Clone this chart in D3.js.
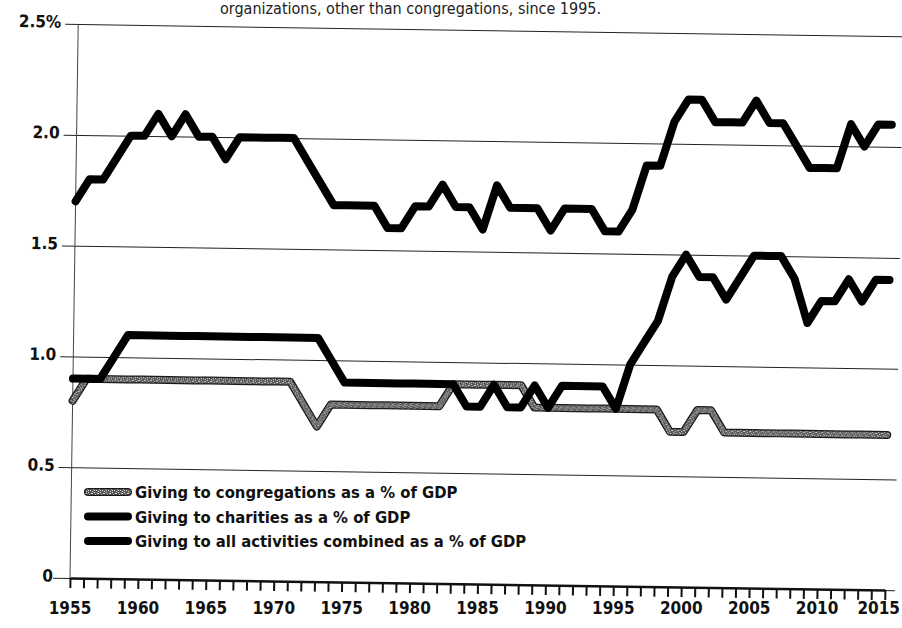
<!DOCTYPE html>
<html>
<head>
<meta charset="utf-8">
<script src="https://cdn.jsdelivr.net/npm/d3@7"></script>
<style>
  body { margin: 0; background: #fff; }
  svg { display: block; }
  .lbl {
    font-family: "DejaVu Sans Condensed", "DejaVu Sans", sans-serif;
    font-stretch: condensed;
    font-weight: bold;
    fill: #111;
  }
  .sub {
    font-family: "DejaVu Sans Condensed", "DejaVu Sans", sans-serif;
    font-stretch: condensed;
    fill: #222;
  }
</style>
</head>
<body>
<div id="chart"></div>
<script>
// Giving as a % of GDP, 1955-2015
var years = d3.range(1955, 2016);

var congregations = [
  0.8, 0.9, 0.9, 0.9, 0.9, 0.9, 0.9, 0.9, 0.9, 0.9,   // 1955-1964
  0.9, 0.9, 0.9, 0.9, 0.9, 0.9, 0.9, 0.8, 0.7, 0.8,   // 1965-1974
  0.8, 0.8, 0.8, 0.8, 0.8, 0.8, 0.8, 0.8, 0.9, 0.9,   // 1975-1984
  0.9, 0.9, 0.9, 0.9, 0.8, 0.8, 0.8, 0.8, 0.8, 0.8,   // 1985-1994
  0.8, 0.8, 0.8, 0.8, 0.7, 0.7, 0.8, 0.8, 0.7, 0.7,   // 1995-2004
  0.7, 0.7, 0.7, 0.7, 0.7, 0.7, 0.7, 0.7, 0.7, 0.7,   // 2005-2014
  0.7                                                 // 2015
];

var charities = [
  0.9, 0.9, 0.9, 1.0, 1.1, 1.1, 1.1, 1.1, 1.1, 1.1,
  1.1, 1.1, 1.1, 1.1, 1.1, 1.1, 1.1, 1.1, 1.1, 1.0,
  0.9, 0.9, 0.9, 0.9, 0.9, 0.9, 0.9, 0.9, 0.9, 0.8,
  0.8, 0.9, 0.8, 0.8, 0.9, 0.8, 0.9, 0.9, 0.9, 0.9,
  0.8, 1.0, 1.1, 1.2, 1.4, 1.5, 1.4, 1.4, 1.3, 1.4,
  1.5, 1.5, 1.5, 1.4, 1.2, 1.3, 1.3, 1.4, 1.3, 1.4,
  1.4
];

var combined = [
  1.7, 1.8, 1.8, 1.9, 2.0, 2.0, 2.1, 2.0, 2.1, 2.0,
  2.0, 1.9, 2.0, 2.0, 2.0, 2.0, 2.0, 1.9, 1.8, 1.7,
  1.7, 1.7, 1.7, 1.6, 1.6, 1.7, 1.7, 1.8, 1.7, 1.7,
  1.6, 1.8, 1.7, 1.7, 1.7, 1.6, 1.7, 1.7, 1.7, 1.6,
  1.6, 1.7, 1.9, 1.9, 2.1, 2.2, 2.2, 2.1, 2.1, 2.1,
  2.2, 2.1, 2.1, 2.0, 1.9, 1.9, 1.9, 2.1, 2.0, 2.1,
  2.1
];

var yTicks = [0, 0.5, 1.0, 1.5, 2.0, 2.5];
var yTickLabels = ["0", "0.5", "1.0", "1.5", "2.0", "2.5%"];
var xLabelYears = [1955, 1960, 1965, 1970, 1975, 1980, 1985, 1990, 1995, 2000, 2005, 2010, 2015];

var legendLabels = [
  "Giving to congregations as a % of GDP",
  "Giving to charities as a % of GDP",
  "Giving to all activities combined as a % of GDP"
];
var subtitle = "organizations, other than congregations, since 1995.";

var svgWidth = 902;
var svgHeight = 628;

var svg = d3.select("#chart")
  .append("svg")
  .attr("width", svgWidth)
  .attr("height", svgHeight);

// stippled texture for the congregations line
var pat = svg.append("defs").append("pattern")
  .attr("id", "stipple")
  .attr("patternUnits", "userSpaceOnUse")
  .attr("width", 6)
  .attr("height", 6);
pat.append("rect").attr("width", 6).attr("height", 6).attr("fill", "#5a5a5a");
[[0, 0], [3, 1], [1, 2], [5, 3], [2, 4], [4, 5], [0, 4], [4, 1]].forEach(function(p) {
  pat.append("rect").attr("x", p[0]).attr("y", p[1])
    .attr("width", 1).attr("height", 1).attr("fill", "#d0d0d0");
});

// scales
var x = d3.scaleLinear().domain([1955, 2015]).range([70, 885]);
var y = d3.scaleLinear().domain([0, 2.5]).range([578, 24]);

// the printed page sits slightly askew, so tilt the plot a touch
var plot = svg.append("g")
  .attr("transform", "rotate(0.85, 70, 578)");

// grid lines + y labels
var yAxis = d3.axisLeft(y)
  .tickValues(yTicks)
  .tickSize(-(895 - 57))
  .tickPadding(4)
  .tickFormat(function(d, i) { return yTickLabels[i]; });

var yG = plot.append("g")
  .attr("transform", "translate(57, 0)")
  .call(yAxis);
yG.select(".domain").remove();
yG.selectAll(".tick line")
  .attr("stroke", "#222")
  .attr("stroke-width", 1);
yG.selectAll(".tick text")
  .attr("class", "lbl")
  .attr("font-size", 17)
  .attr("dy", "0.2em");
// baseline tick starts a little further left
yG.selectAll(".tick").filter(function(d) { return d === 0; })
  .select("line").attr("x1", -4);

// y axis line
plot.append("line")
  .attr("x1", x(1955)).attr("x2", x(1955))
  .attr("y1", y(2.5)).attr("y2", y(0))
  .attr("stroke", "#444")
  .attr("stroke-width", 1);

// x axis with yearly ticks
var xAxis = d3.axisBottom(x)
  .tickValues(years)
  .tickSize(10)
  .tickSizeOuter(0)
  .tickFormat("");

var xG = plot.append("g")
  .attr("transform", "translate(0, " + y(0) + ")")
  .call(xAxis);
xG.select(".domain").attr("stroke", "#111").attr("stroke-width", 2.5);
xG.selectAll(".tick line").attr("stroke", "#111").attr("stroke-width", 2);

// lines
var line = d3.line()
  .x(function(d) { return x(d.year); })
  .y(function(d) { return y(d.value); });

function toPoints(values) {
  return values.map(function(v, i) { return { year: years[i], value: v }; });
}

plot.append("path")
  .datum(toPoints(congregations))
  .attr("d", line)
  .attr("fill", "none")
  .attr("stroke", "#1a1a1a")
  .attr("stroke-width", 8)
  .attr("stroke-linejoin", "round")
  .attr("stroke-linecap", "round");
plot.append("path")
  .datum(toPoints(congregations))
  .attr("d", line)
  .attr("fill", "none")
  .attr("stroke", "url(#stipple)")
  .attr("stroke-width", 5.5)
  .attr("stroke-linejoin", "round")
  .attr("stroke-linecap", "round");

[charities, combined].forEach(function(vals) {
  plot.append("path")
    .datum(toPoints(vals))
    .attr("d", line)
    .attr("fill", "none")
    .attr("stroke", "#000")
    .attr("stroke-width", 8)
    .attr("stroke-linejoin", "round")
    .attr("stroke-linecap", "round");
});

// year labels (last one pulled in so it stays on the page)
svg.append("g")
  .selectAll("text")
  .data(xLabelYears)
  .enter()
  .append("text")
  .attr("class", "lbl")
  .attr("x", function(d, i) { return i === xLabelYears.length - 1 ? 900 : x(d); })
  .attr("y", 614)
  .attr("text-anchor", function(d, i) { return i === xLabelYears.length - 1 ? "end" : "middle"; })
  .attr("font-size", 17)
  .text(function(d) { return d; });

// legend
var legend = svg.append("g").attr("transform", "translate(88, 492)");
var legendRows = legend.selectAll("g")
  .data(legendLabels)
  .enter()
  .append("g")
  .attr("transform", function(d, i) { return "translate(0, " + (i * 24.5) + ")"; });

legendRows.append("line")
  .attr("x1", 0).attr("x2", 40)
  .attr("y1", 0).attr("y2", 0)
  .attr("stroke", function(d, i) { return i === 0 ? "#1a1a1a" : "#000"; })
  .attr("stroke-width", 8)
  .attr("stroke-linecap", "round");
legendRows.filter(function(d, i) { return i === 0; })
  .append("line")
  .attr("x1", 0).attr("x2", 40)
  .attr("y1", 0).attr("y2", 0)
  .attr("stroke", "url(#stipple)")
  .attr("stroke-width", 5.5)
  .attr("stroke-linecap", "round");

legendRows.append("text")
  .attr("class", "lbl")
  .attr("x", 47)
  .attr("y", 6)
  .attr("font-size", 16.5)
  .text(function(d) { return d; });

// subtitle line at the top of the page
svg.append("text")
  .attr("class", "sub")
  .attr("x", 220)
  .attr("y", 14)
  .attr("font-size", 16)
  .text(subtitle);
</script>
</body>
</html>
